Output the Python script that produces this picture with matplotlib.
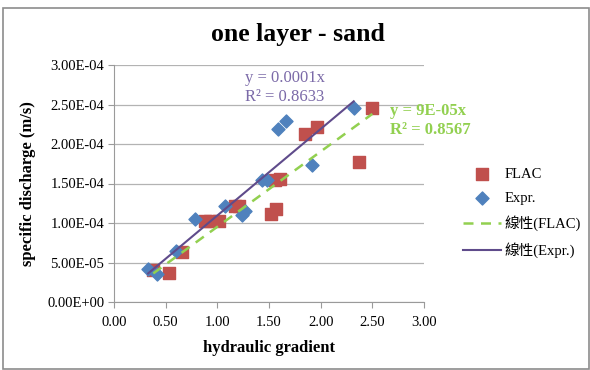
import numpy as np
import matplotlib.pyplot as plt
from matplotlib.patches import Rectangle

# FLAC model results
flac_x = [0.38, 0.53, 0.66, 0.88, 0.93, 1.02, 1.17, 1.21, 1.52, 1.57, 1.56, 1.61, 1.85, 1.96, 2.37, 2.50]
flac_y = [4.0e-5, 3.7e-5, 6.3e-5, 1.02e-4, 1.03e-4, 1.02e-4, 1.21e-4, 1.21e-4,
          1.11e-4, 1.18e-4, 1.55e-4, 1.56e-4, 2.13e-4, 2.22e-4, 1.77e-4, 2.45e-4]

# experiment results
expr_x = [0.33, 0.42, 0.60, 0.78, 1.07, 1.24, 1.27, 1.43, 1.48, 1.59, 1.66, 1.92, 2.32]
expr_y = [4.2e-5, 3.6e-5, 6.4e-5, 1.05e-4, 1.21e-4, 1.10e-4, 1.15e-4, 1.55e-4, 1.55e-4,
          2.19e-4, 2.29e-4, 1.74e-4, 2.45e-4]

xticks = [0.0, 0.5, 1.0, 1.5, 2.0, 2.5, 3.0]
yticks = [0, 5e-5, 1e-4, 1.5e-4, 2e-4, 2.5e-4, 3e-4]

serif = ['Liberation Serif', 'Noto Sans CJK TC']
plt.rcParams['font.family'] = serif

fig = plt.figure(figsize=(5.9, 3.7), dpi=100)
ax = fig.add_axes([114 / 590, 68 / 370, 310 / 590, 237 / 370])

# outer chart frame
fig.patches.append(Rectangle((3 / 590, 1 / 370), 586 / 590, 361 / 370, transform=fig.transFigure,
                             fill=False, edgecolor='#8c8c8c', linewidth=1.2))


def origin_fit(x, y):
    x = np.asarray(x)
    y = np.asarray(y)
    return (x * y).sum() / (x * x).sum()


k_flac = origin_fit(flac_x, flac_y)
k_expr = origin_fit(expr_x, expr_y)

ax.scatter(flac_x, flac_y, marker='s', s=75, color='#C0504D', zorder=3, label='FLAC')
ax.scatter(expr_x, expr_y, marker='D', s=44, color='#4F81BD', zorder=3, label='Expr.')

fx = np.array([min(flac_x), max(flac_x)])
ex = np.array([min(expr_x), max(expr_x)])
ax.plot(fx, k_flac * fx, '--', color='#92D050', linewidth=1.8, dashes=(4, 3), zorder=4, label='線性(FLAC)')
ax.plot(ex, k_expr * ex, '-', color='#5F4B8B', linewidth=1.5, zorder=4, label='線性(Expr.)')

ax.text(0.423, 0.98, 'y = 0.0001x\nR² = 0.8633', transform=ax.transAxes,
        color='#7B6AA8', fontsize=12, linespacing=1.25, va='top')
ax.text(0.89, 0.84, 'y = 9E-05x\nR² = 0.8567', transform=ax.transAxes,
        color='#92D050', fontsize=12, fontweight='bold', linespacing=1.25, va='top')

ax.set_xlim(0, 3)
ax.set_ylim(0, 3e-4)
ax.set_xticks(xticks)
ax.set_yticks(yticks)
ax.set_xticklabels(['%.2f' % v for v in xticks], fontsize=10.5)
ax.set_yticklabels(['%.2E' % v for v in yticks], fontsize=10.5)
ax.grid(axis='y', color='#b3b3b3', linewidth=0.9)
ax.set_axisbelow(True)
for s in ['top', 'right']:
    ax.spines[s].set_visible(False)
for s in ['left', 'bottom']:
    ax.spines[s].set_color('#9a9a9a')
ax.tick_params(color='#9a9a9a', length=4, pad=3)
ax.tick_params(axis='x', pad=6)

fig.text(298 / 590, 1 - 34 / 370, 'one layer - sand', fontsize=18.5, fontweight='bold',
         ha='center', va='center')
ax.set_xlabel('hydraulic gradient', fontsize=12, fontweight='bold', labelpad=8)
ax.set_ylabel('specific discharge (m/s)', fontsize=12, fontweight='bold', labelpad=8)

ax.legend(loc='upper left', bbox_to_anchor=(456 / 590, 1 - 160 / 370), bbox_transform=fig.transFigure,
          frameon=False, handlelength=2.6, labelspacing=0.75, borderpad=0,
          handletextpad=0.2, prop={'family': serif, 'size': 10.5})

fig.savefig('out.png', dpi=100)
